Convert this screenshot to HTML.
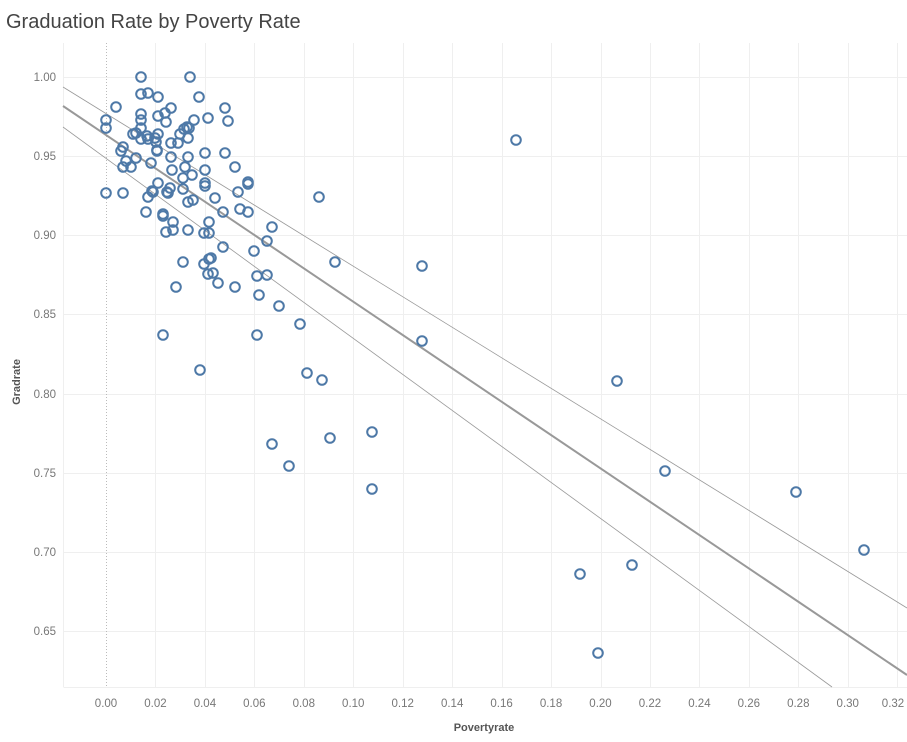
<!DOCTYPE html>
<html><head><meta charset="utf-8"><style>
body{margin:0;background:#fff;}
svg{display:block;font-family:"Liberation Sans",sans-serif;}
</style></head><body>
<svg width="907" height="742" xmlns="http://www.w3.org/2000/svg">
<text x="6" y="28" font-size="20" fill="#444">Graduation Rate by Poverty Rate</text>
<g stroke="#efefef" stroke-width="1">
<line x1="63.5" y1="77.5" x2="907" y2="77.5"/><line x1="63.5" y1="156.5" x2="907" y2="156.5"/>
<line x1="63.5" y1="235.5" x2="907" y2="235.5"/><line x1="63.5" y1="314.5" x2="907" y2="314.5"/>
<line x1="63.5" y1="394.5" x2="907" y2="394.5"/><line x1="63.5" y1="473.5" x2="907" y2="473.5"/>
<line x1="63.5" y1="552.5" x2="907" y2="552.5"/><line x1="63.5" y1="631.5" x2="907" y2="631.5"/>
<line x1="63.5" y1="43" x2="63.5" y2="687"/><line x1="63.5" y1="687.5" x2="907" y2="687.5"/>
</g>
<g stroke="#efefef" id="vg"></g>
<line x1="106.5" y1="43" x2="106.5" y2="687" stroke="#bbb" stroke-dasharray="1,2"/>
<g font-size="11.5" fill="#777" text-anchor="end">
<text x="56" y="81">1.00</text><text x="56" y="160">0.95</text><text x="56" y="239">0.90</text>
<text x="56" y="318">0.85</text><text x="56" y="398">0.80</text><text x="56" y="477">0.75</text>
<text x="56" y="556">0.70</text><text x="56" y="635">0.65</text>
</g>
<g font-size="11.5" fill="#777" text-anchor="middle" id="xl"></g>
<text transform="translate(20,382) rotate(-90)" font-size="11" font-weight="bold" fill="#555" text-anchor="middle">Gradrate</text>
<text x="484" y="731" font-size="11" font-weight="bold" fill="#555" text-anchor="middle">Povertyrate</text>
<line x1="63" y1="106" x2="907" y2="675" stroke="#999" stroke-width="2"/>
<line x1="63" y1="87" x2="907" y2="608" stroke="#999" stroke-width="0.8"/>
<line x1="63" y1="127" x2="832" y2="687" stroke="#999" stroke-width="0.8"/>
<g id="pts" fill="none" stroke="#4e79a7" stroke-width="2"></g>
<script>
var ns="http://www.w3.org/2000/svg";
var vg=document.getElementById("vg"),xl=document.getElementById("xl");
for(var i=0;i<=16;i++){var x=106+i*49.45;
 if(i>0&&x<906){var l=document.createElementNS(ns,"line");l.setAttribute("x1",Math.round(x)+.5);l.setAttribute("x2",Math.round(x)+.5);l.setAttribute("y1",43);l.setAttribute("y2",687);vg.appendChild(l);}
 var t=document.createElementNS(ns,"text");t.setAttribute("x",i==16?893:x);t.setAttribute("y",707);t.textContent=(i*0.02).toFixed(2);xl.appendChild(t);}
var p=[[141,77],[190,77],[141,94],[148,93],[158,97],[199,97],[116,107],[171,108],[225,108],[165,113],[141,114],[158,116],[208,118],[106,120],[141,120],[166,122],[194,120],[228,121],[106,128],[141,128],[187,127],[189,128],[184,129],[133,134],[136,133],[180,134],[158,134],[141,139],[147,136],[148,139],[155,138],[188,138],[171,143],[178,143],[156,142],[123,147],[121,151],[157,150],[157,151],[205,153],[225,153],[171,157],[188,157],[136,158],[126,161],[123,167],[131,167],[151,163],[235,167],[172,170],[185,167],[205,170],[192,175],[183,178],[183,189],[158,183],[205,183],[205,186],[248,182],[248,184],[238,192],[170,188],[167,192],[152,191],[148,197],[215,198],[106,193],[123,193],[188,202],[193,200],[146,212],[163,214],[223,212],[240,209],[248,212],[153,192],[168,193],[319,197],[163,216],[173,222],[166,232],[173,230],[188,230],[209,222],[204,233],[209,233],[272,227],[267,241],[254,251],[223,247],[183,262],[204,264],[209,259],[211,258],[208,274],[213,273],[218,283],[235,287],[176,287],[257,276],[267,275],[259,295],[279,306],[300,324],[335,262],[163,335],[257,335],[200,370],[307,373],[322,380],[516,140],[422,266],[422,341],[617,381],[665,471],[796,492],[864,550],[580,574],[632,565],[598,653],[330,438],[372,432],[372,489],[289,466],[272,444]];
var g=document.getElementById("pts");
p.forEach(function(a){var c=document.createElementNS(ns,"circle");c.setAttribute("cx",a[0]);c.setAttribute("cy",a[1]);c.setAttribute("r",4.8);g.appendChild(c);});
</script>
</svg>
</body></html>
